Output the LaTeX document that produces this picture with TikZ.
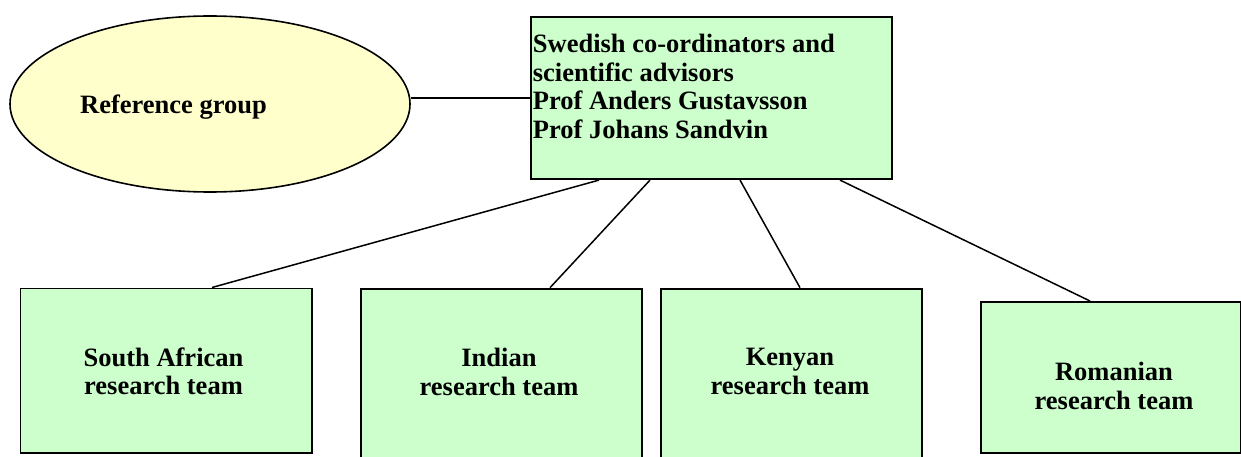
\documentclass[tikz,border=0pt]{standalone}
\usepackage{fontspec}
\setmainfont{Liberation Serif}
\usetikzlibrary{shapes.geometric}
\definecolor{boxgreen}{HTML}{CCFFCC}
\definecolor{refyellow}{HTML}{FFFFCC}
\begin{document}
\begin{tikzpicture}[x=1pt,y=-1pt,
  box/.style={draw=black, line width=1.8pt, fill=boxgreen, rectangle, inner sep=0pt, anchor=north west},
  lbl/.style={font=\fontsize{26.5}{28.7}\selectfont\bfseries, inner sep=0pt, align=center, text=black},
  conn/.style={line width=1.5pt, draw=black}]
\useasboundingbox (0,0) rectangle (1241,457);
\clip (0,0) rectangle (1241,457);
\fill[white] (0,0) rectangle (1241,457);
% ellipse
\node[draw=black, ellipse, fill=refyellow, minimum width=400pt, minimum height=176pt, inner sep=0pt, line width=1.6pt] (ref) at (210,104) {};
\node[lbl, anchor=base west] (reftext) at (80,113.3) {Reference group};
% top box
\node[box, minimum width=360.7pt, minimum height=162.3pt] (top) at (530,16) {};
\node[lbl, align=left, anchor=north west] (toptext) at (532.7,34) {Swedish co-ordinators and\\scientific advisors\\Prof Anders Gustavsson\\Prof Johans Sandvin};
% bottom boxes
\node[box, minimum width=291.5pt, minimum height=164.3pt] (sa) at (19.5,287.5) {};
\node[box, minimum width=280.7pt, minimum height=200pt] (ind) at (360,287.7) {};
\node[box, minimum width=260.7pt, minimum height=200pt] (ken) at (660,287.7) {};
\node[box, minimum width=260pt, minimum height=150.7pt] (rom) at (980,301) {};
\node[lbl] (satext) at (163.5,371.4) {South African\\research team};
\node[lbl] (indtext) at (499,371.8) {Indian\\research team};
\node[lbl] (kentext) at (790,371.6) {Kenyan\\research team};
\node[lbl] (romtext) at (1114,385.8) {Romanian\\research team};
% connectors
\draw[conn] (top.west) -- (top.west -| ref.east);
\draw[conn] ([xshift=69pt]top.south west) -- ([xshift=192.5pt]sa.north west);
\draw[conn] ([xshift=120pt]top.south west) -- ([xshift=190pt]ind.north west);
\draw[conn] ([xshift=210pt]top.south west) -- ([xshift=140pt]ken.north west);
\draw[conn] ([xshift=310pt]top.south west) -- ([xshift=110pt]rom.north west);
\end{tikzpicture}
\end{document}
